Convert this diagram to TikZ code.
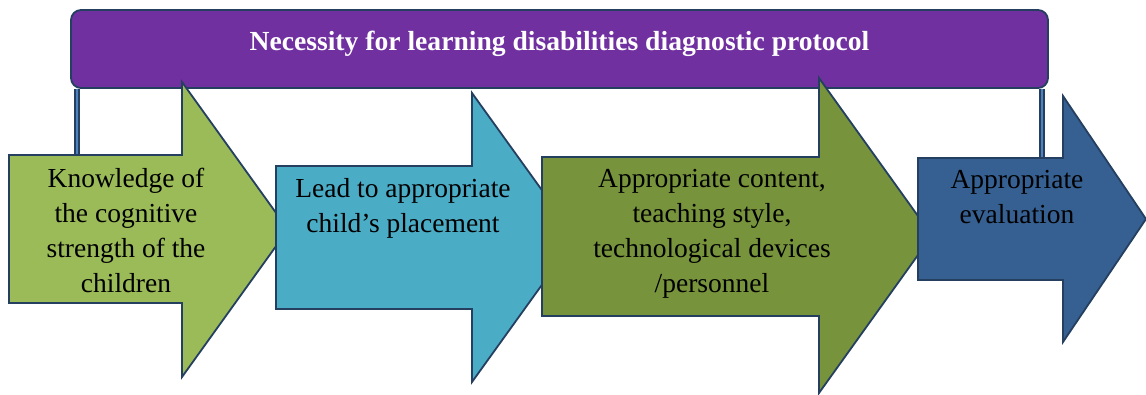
\documentclass[tikz,border=0pt]{standalone}
\usepackage{fontspec}
\setmainfont{Liberation Serif}
\definecolor{barpurple}{HTML}{7030A0}
\definecolor{outline}{HTML}{243F60}
\definecolor{linkblue}{HTML}{4F81BD}
\definecolor{aone}{HTML}{9BBB59}
\definecolor{atwo}{HTML}{4BACC6}
\definecolor{athree}{HTML}{77933C}
\definecolor{afour}{HTML}{366092}
\begin{document}
\begin{tikzpicture}[x=1pt,y=-1pt,
  shp/.style={draw=outline, line width=1.8pt, line join=miter},
  lbl/.style={font=\fontsize{27.5}{35}\selectfont, align=center, inner sep=0pt, anchor=base, text=black},
  link/.style={draw=outline, double=linkblue, double distance=2.5pt, line width=1.5pt}]
\useasboundingbox (0,0) rectangle (1146,394);
% top bar
\node[shp, fill=barpurple, rounded corners=10pt, minimum width=977pt, minimum height=78pt, inner sep=0pt] (bar) at (559.5,49) {};
\node[font=\fontsize{27.6}{32}\selectfont\bfseries, text=white, anchor=base, inner sep=0pt] (title) at (559.5,50) {Necessity for learning disabilities diagnostic protocol};
% connectors
\coordinate (l1a) at (77,89);
\coordinate (l1b) at (77,155);
\coordinate (l4a) at (1042,89);
\coordinate (l4b) at (1042,158);
\draw[link] (l1a) -- (l1b);
\draw[link] (l4a) -- (l4b);
% arrow 1
\draw[shp, fill=aone] (9,155) -- (182,155) -- (182,82) -- (288,229.5) -- (182,377) -- (182,303) -- (9,303) -- cycle;
\node[lbl] (t1) at (126,292) {Knowledge of\\the cognitive\\strength of the\\children};
% arrow 2
\draw[shp, fill=atwo] (276,166) -- (472,166) -- (472,93) -- (576,237.5) -- (472,382) -- (472,309) -- (276,309) -- cycle;
\node[lbl] (t2) at (403,232) {Lead to appropriate\\child’s placement};
% arrow 3
\draw[shp, fill=athree] (542,157) -- (819,157) -- (819,78) -- (932,235.5) -- (819,393) -- (819,316) -- (542,316) -- cycle;
\node[lbl] (t3) at (712,292) {Appropriate content,\\teaching style,\\technological devices\\/personnel};
% arrow 4
\draw[shp, fill=afour] (918,158) -- (1063,158) -- (1063,96) -- (1146,219) -- (1063,342) -- (1063,280) -- (918,280) -- cycle;
\node[lbl] (t4) at (1017,223) {Appropriate\\evaluation};
\end{tikzpicture}
\end{document}
